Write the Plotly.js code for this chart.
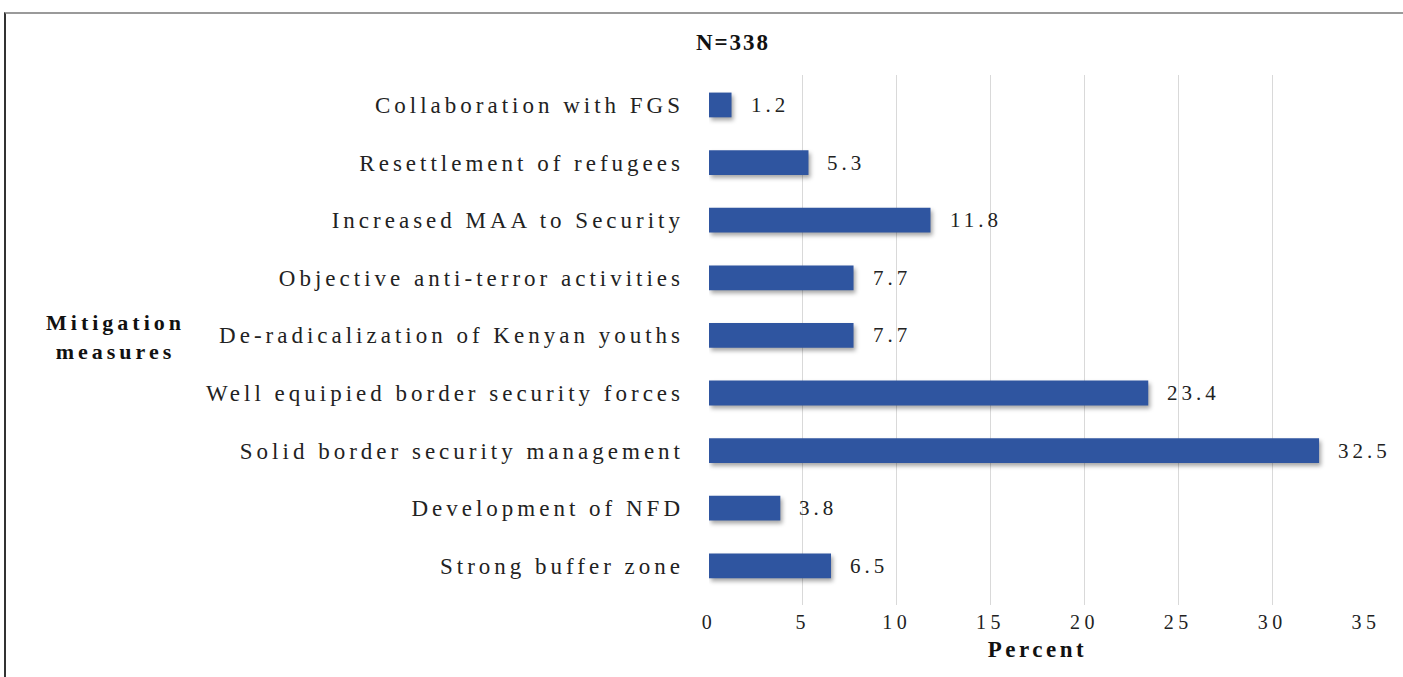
<!DOCTYPE html>
<html>
<head>
<meta charset="utf-8">
<script src="https://cdn.plot.ly/plotly-3.0.1.min.js"></script>
<style>
  html, body { margin: 0; padding: 0; background: #fff; }
  #wrap { position: relative; width: 1403px; height: 677px; }
  #chart { width: 1403px; height: 677px; }
  #frame { position: absolute; left: 4px; top: 12px; right: 0; bottom: 0;
           border-top: 2px solid #9a9a9a; border-left: 2px solid #333; pointer-events: none; }
  .ytick text { letter-spacing: 4px; }
  .xtick text { letter-spacing: 4.5px; }
  .annotation-text { letter-spacing: 4px; }
  .gtitle { letter-spacing: 2px; }
  .xtitle { letter-spacing: 3.5px; }
  .bars path { filter: drop-shadow(2px 3px 2px rgba(0,0,0,0.35)); }
</style>
</head>
<body>
<div id="wrap">
  <div id="chart"></div>
  <div id="frame"></div>
</div>
<script>
// Categories listed from bottom to top
const categories = [
  "Strong buffer zone",
  "Development of NFD",
  "Solid border security management",
  "Well equipied border security forces",
  "De-radicalization of Kenyan youths",
  "Objective anti-terror activities",
  "Increased MAA to Security",
  "Resettlement of refugees",
  "Collaboration with FGS"
];
const percents = [6.5, 3.8, 32.5, 23.4, 7.7, 7.7, 11.8, 5.3, 1.2];
const xTicks = [0, 5, 10, 15, 20, 25, 30, 35];
const chartTitle = "N=338";
const xTitle = "Percent";
const yTitle = "Mitigation<br>measures";

const serif = "Liberation Serif, Times New Roman, serif";

const trace = {
  type: "bar",
  orientation: "h",
  x: percents,
  y: categories,
  width: 0.43,
  marker: { color: "#2F55A0", line: { width: 0 } },
  hoverinfo: "none"
};

const valueAnnotations = percents.map((v, i) => ({
  x: v, y: categories[i], xref: "x", yref: "y",
  text: v.toFixed(1), showarrow: false,
  xanchor: "left", yanchor: "middle", xshift: 17,
  font: { family: serif, size: 21, color: "#222" }
}));

const layout = {
  width: 1403, height: 677,
  margin: { l: 709, r: 37, t: 75, b: 72 },
  paper_bgcolor: "#fff", plot_bgcolor: "#fff",
  showlegend: false,
  title: {
    text: "<b>" + chartTitle + "</b>",
    xref: "container", yref: "container",
    x: 733 / 1403, y: 1 - 42 / 677, xanchor: "center", yanchor: "middle",
    font: { family: serif, size: 23, color: "#111" }
  },
  xaxis: {
    range: [0, 35],
    tickvals: xTicks,
    ticktext: xTicks.map(String),
    showgrid: true, gridcolor: "#d9d9d9", gridwidth: 1,
    zeroline: false, showline: false, ticks: "",
    ticklabelstandoff: 3,
    tickfont: { family: serif, size: 20, color: "#222" },
    title: { text: "<b>" + xTitle + "</b>", font: { family: serif, size: 23, color: "#111" }, standoff: 8 },
    fixedrange: true
  },
  yaxis: {
    type: "category",
    range: [-0.68, 8.52],
    showgrid: false, zeroline: false, showline: false, ticks: "",
    ticklabelstandoff: 24,
    tickfont: { family: serif, size: 23, color: "#222" },
    fixedrange: true
  },
  annotations: valueAnnotations.concat([{
    xref: "paper", yref: "paper",
    x: (115 - 709) / 657, y: (605 - 337) / 530,
    text: "<b>" + yTitle + "</b>", showarrow: false,
    xanchor: "center", yanchor: "middle", align: "center",
    font: { family: serif, size: 22, color: "#111" }
  }])
};

Plotly.newPlot("chart", [trace], layout, { displayModeBar: false, staticPlot: true });
</script>
</body>
</html>
